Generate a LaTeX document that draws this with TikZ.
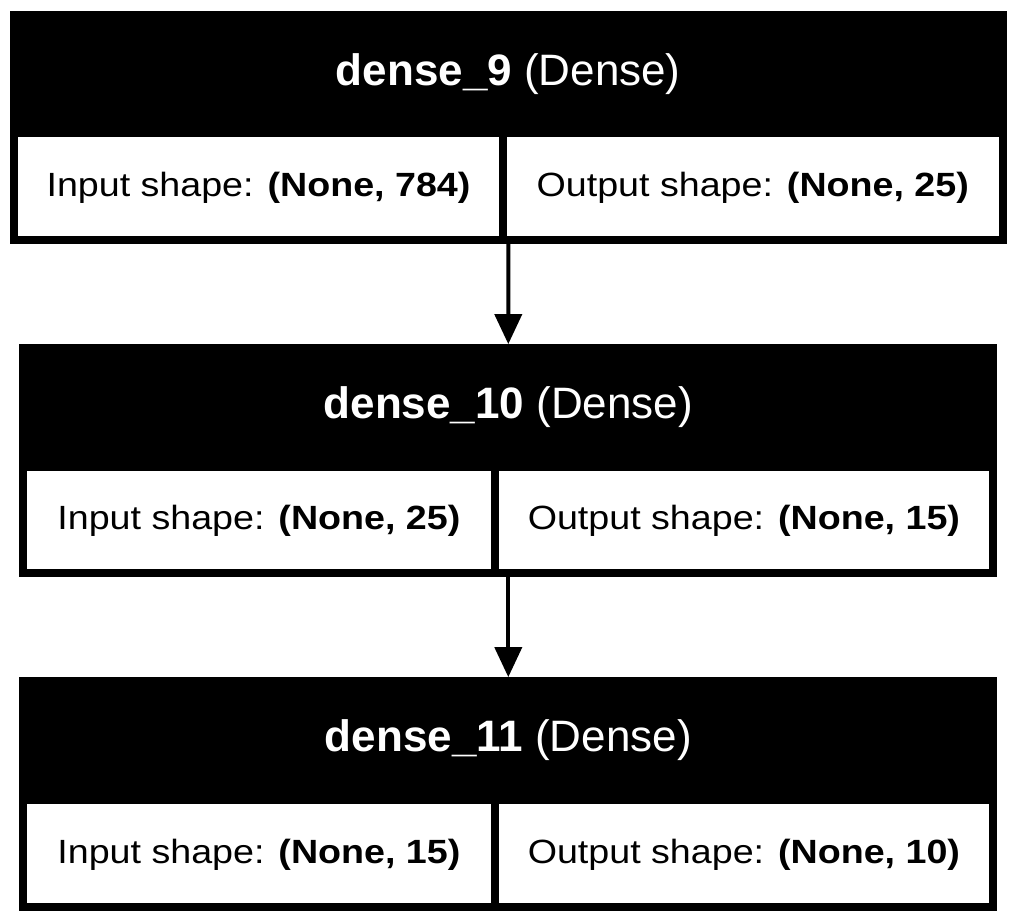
\documentclass[tikz,border=0pt]{standalone}
\usepackage{fontspec}
\setmainfont{Liberation Sans}
\newfontfamily\cellfam[FakeStretch=1.12]{Liberation Sans}
\newcommand{\hdrfont}{\fontsize{44pt}{50pt}\selectfont}
\newcommand{\cellfont}{\cellfam\fontsize{33.6pt}{40pt}\selectfont}
\usetikzlibrary{arrows.meta}

\tikzset{
  hdr/.style={fill=black,text=white,inner sep=0pt,font=\hdrfont,
    text height=22pt,text depth=0pt},
  cell/.style={draw=black,line width=8pt,fill=white,inner sep=0pt,font=\cellfont,
    text height=36pt,text depth=17pt},
  frame/.style={draw=black,line width=8pt,inner sep=0pt},
  flow/.style={-{Triangle[length=30pt,width=27pt]},line width=4pt},
}

\begin{document}
\begin{tikzpicture}[x=1pt,y=-1pt]
          \fill[white] (0,0) rectangle (1017,922);
          \useasboundingbox (0,0) rectangle (1017,922);
          % dense_9
          \node[hdr,minimum width=996.5pt,minimum height=126pt] (h9) at (508.25,74) {\textbf{dense\_9} (Dense)};
          \node[cell,minimum width=489pt,minimum height=107pt] (in9) at (258.5,186.5) {Input shape: \textbf{(None, 784)}};
          \node[cell,minimum width=499.5pt,minimum height=107pt] (out9) at (752.75,186.5) {Output shape: \textbf{(None, 25)}};
          \node[frame,minimum width=988.5pt,minimum height=225pt] (b9) at (508.25,127.5) {};
          % dense_10
          \node[hdr,minimum width=978pt,minimum height=126.7pt] (h10) at (508.3,407.65) {\textbf{dense\_10} (Dense)};
          \node[cell,minimum width=471.2pt,minimum height=106pt] (in10) at (258.9,520) {Input shape: \textbf{(None, 25)}};
          \node[cell,minimum width=498.8pt,minimum height=106pt] (out10) at (743.9,520) {Output shape: \textbf{(None, 15)}};
          \node[frame,minimum width=970pt,minimum height=224.7pt] (b10) at (508.3,460.65) {};
          % dense_11
          \node[hdr,minimum width=978pt,minimum height=126.7pt] (h11) at (508.3,740.65) {\textbf{dense\_11} (Dense)};
          \node[cell,minimum width=471.2pt,minimum height=107pt] (in11) at (258.9,853.5) {Input shape: \textbf{(None, 15)}};
          \node[cell,minimum width=498.8pt,minimum height=107pt] (out11) at (743.9,853.5) {Output shape: \textbf{(None, 10)}};
          \node[frame,minimum width=970pt,minimum height=225.7pt] (b11) at (508.3,794.15) {};
          % arrows
          \draw[flow] (b9.south) -- (h10.north);
          \draw[flow] (b10.south) -- (h11.north);
        \end{tikzpicture}
\end{document}
